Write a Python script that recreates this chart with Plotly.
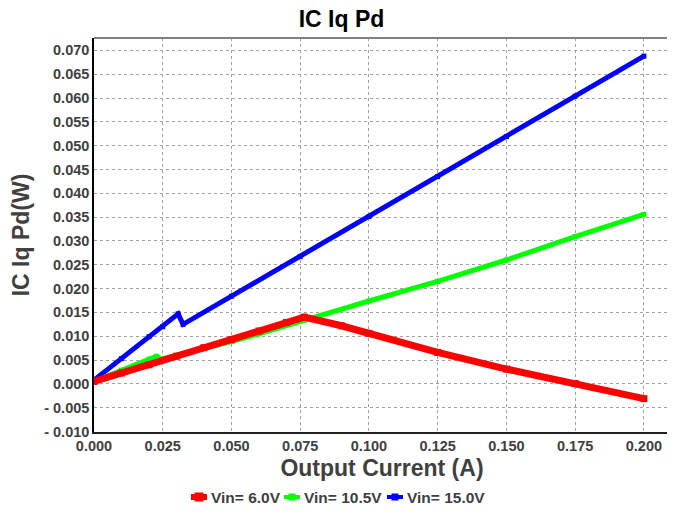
import plotly.graph_objects as go

# ---- data ----
x_red = [0.0, 0.01, 0.02, 0.03, 0.04, 0.05, 0.06, 0.07, 0.0765, 0.09, 0.10, 0.125, 0.15, 0.175, 0.20]
y_red = [0.0005, 0.0023, 0.0040, 0.0058, 0.0076, 0.0093, 0.0111, 0.0129, 0.0140, 0.0122, 0.0106, 0.0066, 0.0031, 0.0001, -0.0031]

x_green = [0.0, 0.01, 0.02, 0.0227, 0.0243, 0.03, 0.04, 0.05, 0.06, 0.0765, 0.10, 0.125, 0.15, 0.175, 0.20]
y_green = [0.0005, 0.0029, 0.0052, 0.0058, 0.0052, 0.0060, 0.0074, 0.0089, 0.0105, 0.0134, 0.0174, 0.0215, 0.0260, 0.0309, 0.0356]

x_blue = [0.0, 0.01, 0.02, 0.025, 0.0306, 0.0324, 0.05, 0.075, 0.10, 0.125, 0.15, 0.175, 0.20]
y_blue = [0.0008, 0.0053, 0.0099, 0.0120, 0.0147, 0.0125, 0.0184, 0.0267, 0.0351, 0.0435, 0.0519, 0.0604, 0.0688]

series_names = ["Vin= 6.0V", "Vin= 10.5V", "Vin= 15.0V"]
series_colors = ["#ff0000", "#00ff00", "#0000ff"]

x_tickvals = [0.0, 0.025, 0.05, 0.075, 0.10, 0.125, 0.15, 0.175, 0.20]
x_ticktext = ["0.000", "0.025", "0.050", "0.075", "0.100", "0.125", "0.150", "0.175", "0.200"]
y_tickvals = [-0.010, -0.005, 0.0, 0.005, 0.010, 0.015, 0.020, 0.025, 0.030, 0.035,
              0.040, 0.045, 0.050, 0.055, 0.060, 0.065, 0.070]
y_ticktext = ["- 0.010", "- 0.005", "0.000", "0.005", "0.010", "0.015", "0.020", "0.025", "0.030",
              "0.035", "0.040", "0.045", "0.050", "0.055", "0.060", "0.065", "0.070"]

FONT = "Liberation Sans, Arial, sans-serif"
TXT = "#404040"

# page offset (browser body margin) compensation
OFF = 8
W, H = 675 - OFF, 512 - OFF
# plot area in figure pixels
L, R, T, B = 94 - OFF, 670 - OFF, 38 - OFF, 432 - OFF
PW, PH = R - L, B - T


def px_x(px):
    return (px - OFF - L) / PW


def px_y(py):
    return (B - (py - OFF)) / PH


fig = go.Figure()
fig.add_trace(go.Scatter(x=x_blue, y=y_blue, name=series_names[2], mode="lines+markers",
                         line=dict(color=series_colors[2], width=5),
                         marker=dict(symbol="square", size=5, color=series_colors[2])))
fig.add_trace(go.Scatter(x=x_green, y=y_green, name=series_names[1], mode="lines+markers",
                         line=dict(color=series_colors[1], width=5),
                         marker=dict(symbol="square", size=5, color=series_colors[1])))
fig.add_trace(go.Scatter(x=x_red, y=y_red, name=series_names[0], mode="lines+markers",
                         line=dict(color=series_colors[0], width=7),
                         marker=dict(symbol="square", size=7, color=series_colors[0])))

fig.update_layout(
    width=W, height=H,
    margin=dict(l=L, r=W - R, t=T, b=H - B, autoexpand=False),
    paper_bgcolor="white", plot_bgcolor="white",
    font=dict(family=FONT, color=TXT),
    title=dict(text="<b>IC Iq Pd</b>", x=0.5, xanchor="center", y=1 - (19 - OFF) / H, yanchor="middle",
               font=dict(family=FONT, size=23, color="#000000")),
    showlegend=False,
)

fig.update_xaxes(
    range=[0, 0.2095], tickvals=x_tickvals, ticktext=["<b>%s</b>" % t for t in x_ticktext],
    tickfont=dict(family=FONT, size=14.5, color=TXT), ticks="", ticklen=0, automargin=False,
    showgrid=True, gridcolor="#a0a0a0", griddash="dot", gridwidth=1,
    showline=True, linecolor="#202020", linewidth=1.5, zeroline=False,
    title=dict(text="<b>Output Current (A)</b>", font=dict(family=FONT, size=23, color=TXT), standoff=7),
)
fig.update_yaxes(
    range=[-0.0101, 0.0726], tickvals=y_tickvals, ticktext=["<b>%s</b>" % t for t in y_ticktext],
    tickfont=dict(family=FONT, size=14.5, color=TXT), ticks="", ticklen=0, automargin=False,
    showgrid=True, gridcolor="#a0a0a0", griddash="dot", gridwidth=1,
    showline=True, linecolor="#000000", linewidth=1.5, zeroline=False,
    title=dict(text="<b>IC Iq Pd(W)</b>", font=dict(family=FONT, size=23, color=TXT), standoff=8),
)

# top and right gray frame
fig.add_shape(type="line", xref="paper", yref="paper", x0=0, x1=1, y0=1, y1=1,
              line=dict(color="#808080", width=2))
fig.add_shape(type="line", xref="paper", yref="paper", x0=1, x1=1, y0=0, y1=1,
              line=dict(color="#808080", width=2))

# compact legend at the bottom (symbol + bold label), positions in page pixels
leg_y = 497
leg_items = [(191, 207, 209, 6), (284, 300, 302, 4), (387, 403, 405, 4)]
for (sx0, sx1, tx, lw), name, col in zip(leg_items, series_names, series_colors):
    fig.add_shape(type="line", xref="paper", yref="paper",
                  x0=px_x(sx0), x1=px_x(sx1), y0=px_y(leg_y), y1=px_y(leg_y),
                  line=dict(color=col, width=lw))
    m = lw / 2 + 1.5
    fig.add_shape(type="rect", xref="paper", yref="paper",
                  x0=px_x((sx0 + sx1) / 2 - m), x1=px_x((sx0 + sx1) / 2 + m),
                  y0=px_y(leg_y + m), y1=px_y(leg_y - m),
                  line=dict(width=0), fillcolor=col)
    fig.add_annotation(xref="paper", yref="paper", x=px_x(tx), y=px_y(leg_y),
                       xanchor="left", yanchor="middle", showarrow=False,
                       text="<b>%s</b>" % name, font=dict(family=FONT, size=15.5, color=TXT))

fig.write_html("out.html")
